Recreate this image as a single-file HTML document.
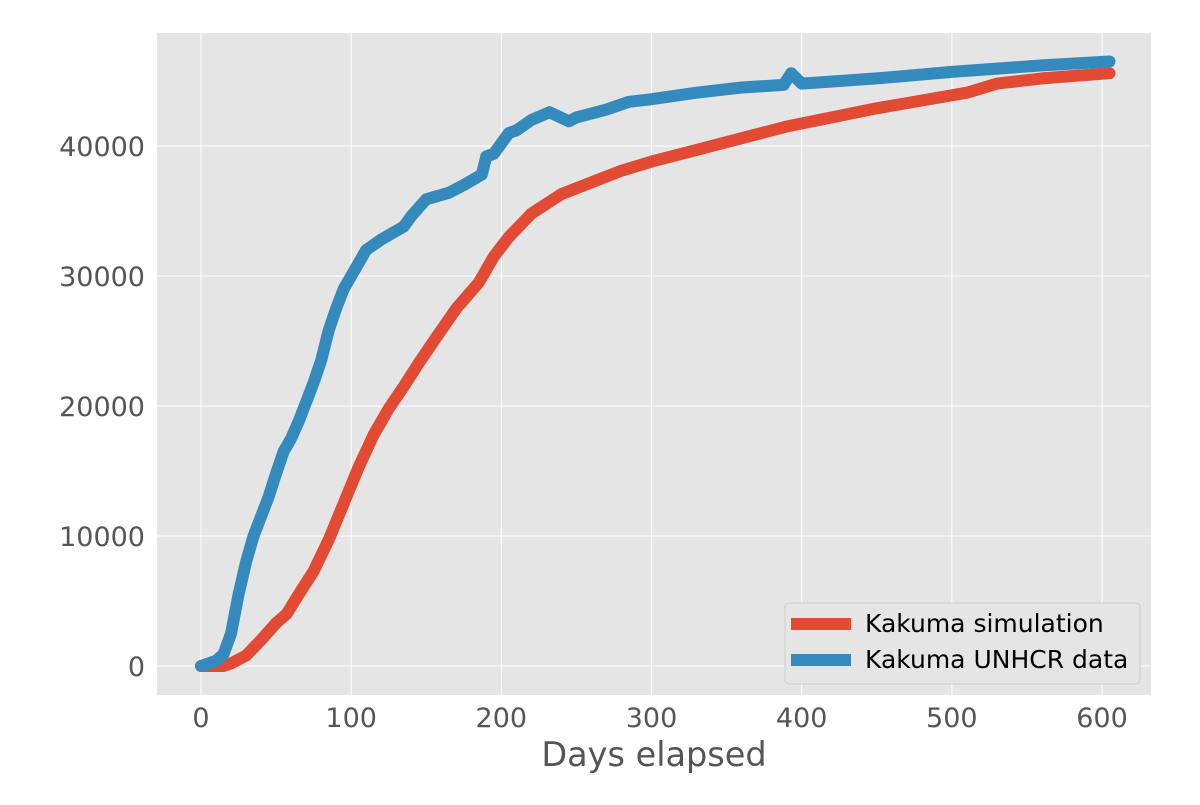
<!DOCTYPE html>
<html><head><meta charset="utf-8"><style>
body{margin:0;background:#fff;}
svg{font-family:"DejaVu Sans","Liberation Sans",sans-serif;}
</style></head><body>
<svg id="chart" width="1200" height="800">
<rect x="157" y="33" width="994" height="662" fill="#e5e5e5"/>
<g id="grid"></g><g id="ticks"></g><g id="series"></g>
<text x="654" y="766" font-size="33.5" fill="#555" text-anchor="middle">Days elapsed</text>
<g>
<rect x="785" y="603" width="355" height="81" rx="4" fill="#e5e5e5" stroke="#ccc" stroke-width="1"/>
<line x1="791" y1="624" x2="851" y2="624" stroke="#e24a33" stroke-width="12"/>
<text x="865" y="632" font-size="25" fill="#000">Kakuma simulation</text>
<line x1="791" y1="660" x2="851" y2="660" stroke="#348abd" stroke-width="12"/>
<text x="865" y="668" font-size="25" fill="#000">Kakuma UNHCR data</text>
</g>
</svg>
<script>
const xTicks=[0,100,200,300,400,500,600];
const yTicks=[0,10000,20000,30000,40000];
const simDays=[0,15,20,30,40,50,57,65,75,85,95,105,115,125,135,145,155,170,185,195,205,220,240,260,280,300,330,360,390,420,450,480,510,530,560,605];
const simVals=[0,0,200,800,2000,3300,4000,5500,7300,9700,12500,15300,17800,19800,21500,23300,25000,27500,29500,31500,33000,34800,36300,37200,38100,38800,39700,40600,41500,42200,42900,43500,44100,44800,45200,45600];
const dataDays=[0,10,15,20,25,30,35,40,45,50,55,60,65,70,75,80,85,90,95,100,105,110,120,135,140,150,165,175,187,190,195,205,210,220,232,245,250,270,285,300,330,360,388,393,400,450,500,560,605];
const dataVals=[0,400,900,2500,5500,8000,10000,11500,13000,14800,16500,17500,18800,20300,21800,23500,25800,27500,29000,30000,31000,32000,32800,33800,34600,35900,36400,37000,37800,39200,39400,41000,41200,42000,42600,41900,42200,42800,43400,43600,44100,44500,44700,45600,44800,45200,45700,46200,46500];
const NS='http://www.w3.org/2000/svg';
const X=d=>201+d*(1102-201)/600;
const Y=v=>666-v*(666-146)/40000;
function mk(tag,attrs,parent){const e=document.createElementNS(NS,tag);for(const k in attrs)e.setAttribute(k,attrs[k]);parent.appendChild(e);return e;}
const grid=document.getElementById('grid'),ticks=document.getElementById('ticks'),series=document.getElementById('series');
xTicks.forEach(t=>{
  const l=mk('line',{x1:X(t),x2:X(t),y1:33,y2:695,stroke:'#fff','stroke-width':1},grid);
  
  
  const tx=mk('text',{x:X(t),y:727,'font-size':27,fill:'#555','text-anchor':'middle'},ticks);
  tx.textContent=t;
  
  
});
yTicks.forEach(t=>{
  const l=mk('line',{x1:157,x2:1151,y1:Y(t),y2:Y(t),stroke:'#fff','stroke-width':1},grid);
  
  
  const tx=mk('text',{x:145,y:Y(t)+10,'font-size':27,fill:'#555','text-anchor':'end'},ticks);
  tx.textContent=t;
  
  
});
function line(days,vals,color,name){
  const p=mk('polyline',{points:days.map((d,i)=>X(d)+','+Y(vals[i])).join(' '),fill:'none',stroke:color,'stroke-width':12,'stroke-linejoin':'round','stroke-linecap':'round'},series);
  
  
}
line(simDays,simVals,'#e24a33','simulation-line');
line(dataDays,dataVals,'#348abd','unhcr-data-line');
</script>
</body></html>
